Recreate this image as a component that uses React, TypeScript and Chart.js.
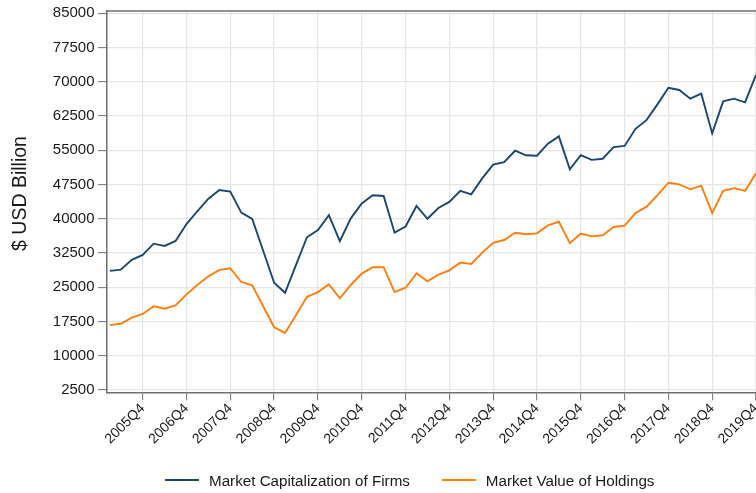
import { useEffect, useRef } from "react";
import { Chart, registerables } from "chart.js";

Chart.register(...registerables);

const QUARTERS = [
  "2005Q1", "2005Q2", "2005Q3", "2005Q4",
  "2006Q1", "2006Q2", "2006Q3", "2006Q4",
  "2007Q1", "2007Q2", "2007Q3", "2007Q4",
  "2008Q1", "2008Q2", "2008Q3", "2008Q4",
  "2009Q1", "2009Q2", "2009Q3", "2009Q4",
  "2010Q1", "2010Q2", "2010Q3", "2010Q4",
  "2011Q1", "2011Q2", "2011Q3", "2011Q4",
  "2012Q1", "2012Q2", "2012Q3", "2012Q4",
  "2013Q1", "2013Q2", "2013Q3", "2013Q4",
  "2014Q1", "2014Q2", "2014Q3", "2014Q4",
  "2015Q1", "2015Q2", "2015Q3", "2015Q4",
  "2016Q1", "2016Q2", "2016Q3", "2016Q4",
  "2017Q1", "2017Q2", "2017Q3", "2017Q4",
  "2018Q1", "2018Q2", "2018Q3", "2018Q4",
  "2019Q1", "2019Q2", "2019Q3", "2019Q4",
];

const X_TICK_LABELS = [
  "2005Q4", "2006Q4", "2007Q4", "2008Q4", "2009Q4", "2010Q4", "2011Q4", "2012Q4",
  "2013Q4", "2014Q4", "2015Q4", "2016Q4", "2017Q4", "2018Q4", "2019Q4",
];

const Y_TICKS = [2500, 10000, 17500, 25000, 32500, 40000, 47500, 55000, 62500, 70000, 77500, 85000];

const MARKET_CAP = [
  28600, 28850, 31000, 32100,
  34550, 34050, 35150, 38850,
  41700, 44400, 46300, 45950,
  41350, 39950, 33000, 26000,
  23800, 29900, 35950, 37550,
  40800, 35100, 40100, 43350,
  45150, 45000, 36950, 38300,
  42800, 40000, 42350, 43700,
  46100, 45350, 48850, 51850,
  52400, 54900, 53900, 53800,
  56450, 58050, 50850, 53950,
  52900, 53150, 55700, 55950,
  59700, 61600, 65050, 68700,
  68200, 66300, 67400, 58700,
  65700, 66300, 65500, 71500,
];

const MARKET_VALUE = [
  16700, 17000, 18350, 19150,
  20850, 20300, 21050, 23450,
  25550, 27400, 28800, 29150,
  26150, 25450, 20850, 16250,
  15000, 18950, 22900, 23950,
  25650, 22600, 25500, 28000,
  29400, 29400, 23950, 24900,
  28050, 26300, 27750, 28700,
  30400, 30100, 32600, 34750,
  35350, 36950, 36600, 36800,
  38550, 39350, 34650, 36750,
  36150, 36400, 38200, 38500,
  41250, 42650, 45200, 47900,
  47550, 46450, 47250, 41250,
  46100, 46700, 46100, 50000,
];

const SERIES_LABELS = ["Market Capitalization of Firms", "Market Value of Holdings"];

const FONT = "'Liberation Sans', Arial, Helvetica, sans-serif";
const AXIS = "#6f6f6f";
const GRID = "#e6e6e6";
const TEXT = "#1a1a1a";
const BLUE = "#1a476f";
const ORANGE = "#ff7f0e";

export default function App() {
  const ref = useRef<HTMLCanvasElement>(null);

  useEffect(() => {
    document.body.style.margin = "0";
    document.body.style.overflow = "hidden";
    if (!ref.current) return;

    const topFrame = {
      id: "topFrame",
      afterDraw(chart: any) {
        const { ctx, chartArea } = chart;
        ctx.save();
        ctx.strokeStyle = AXIS;
        ctx.lineWidth = 1.5;
        ctx.beginPath();
        ctx.moveTo(chartArea.left - 0.75, chartArea.top);
        ctx.lineTo(chartArea.right, chartArea.top);
        ctx.stroke();
        ctx.restore();
      },
    };

    const lineLegend = {
      id: "lineLegend",
      afterDraw(chart: any) {
        const { ctx, chartArea } = chart;
        ctx.save();
        ctx.font = `15.2px ${FONT}`;
        ctx.textBaseline = "alphabetic";
        ctx.textAlign = "left";
        let x = chartArea.left + 58;
        const lineY = chart.height - 13;
        const textY = chart.height - 7;
        chart.data.datasets.forEach((ds: any) => {
          ctx.strokeStyle = ds.borderColor;
          ctx.lineWidth = 2;
          ctx.beginPath();
          ctx.moveTo(x, lineY);
          ctx.lineTo(x + 34, lineY);
          ctx.stroke();
          ctx.fillStyle = TEXT;
          ctx.fillText(ds.label, x + 44, textY);
          x += 44 + ctx.measureText(ds.label).width + 32;
        });
        ctx.restore();
      },
    };

    const chart = new Chart(ref.current, {
      type: "line",
      data: {
        datasets: [
          {
            label: SERIES_LABELS[0],
            data: MARKET_CAP.map((v, i) => ({ x: i, y: v })),
            borderColor: BLUE,
            backgroundColor: BLUE,
            borderWidth: 1.9,
            pointRadius: 0,
            fill: false,
            tension: 0,
          },
          {
            label: SERIES_LABELS[1],
            data: MARKET_VALUE.map((v, i) => ({ x: i, y: v })),
            borderColor: ORANGE,
            backgroundColor: ORANGE,
            borderWidth: 1.9,
            pointRadius: 0,
            fill: false,
            tension: 0,
          },
        ],
      },
      options: {
        animation: false,
        responsive: false,
        devicePixelRatio: 1,
        layout: { padding: { top: 11, left: 0, right: 0, bottom: 0 } },
        plugins: {
          legend: { display: false },
          tooltip: { enabled: false },
        },
        scales: {
          x: {
            type: "linear",
            min: -0.26,
            max: 59,
            afterBuildTicks: (s: any) => {
              s.ticks = X_TICK_LABELS.map((l) => ({ value: QUARTERS.indexOf(l) }));
            },
            afterFit: (s: any) => {
              s.height = 100.7;
              s.paddingLeft = 0;
              s.paddingRight = 0;
            },
            ticks: {
              autoSkip: false,
              minRotation: 45,
              maxRotation: 45,
              padding: 0,
              color: TEXT,
              font: { family: FONT, size: 14 },
              callback: (v: any) => QUARTERS[Math.round(Number(v))] ?? "",
            },
            grid: { color: GRID, lineWidth: 1.3, tickColor: AXIS, tickLength: 8, tickWidth: 1 },
            border: { color: AXIS, width: 1.5 },
          },
          y: {
            min: 2000,
            max: 85500,
            afterBuildTicks: (s: any) => {
              s.ticks = Y_TICKS.map((v) => ({ value: v }));
            },
            afterFit: (s: any) => {
              s.width = 107;
              s.paddingTop = 0;
              s.paddingBottom = 0;
            },
            ticks: {
              padding: 3.5,
              color: TEXT,
              font: { family: FONT, size: 15 },
              callback: (v: any) => String(v),
            },
            grid: { color: GRID, lineWidth: 1.3, tickColor: AXIS, tickLength: 9, tickWidth: 1 },
            border: { color: AXIS, width: 1.5 },
            title: {
              display: true,
              text: "   $ USD Billion",
              color: TEXT,
              font: { family: FONT, size: 19.5 },
              padding: { top: 9, bottom: 0 },
            },
          },
        },
      },
      plugins: [topFrame, lineLegend],
    } as any);

    return () => chart.destroy();
  }, []);

  return (
    <div style={{ width: 756, height: 493, overflow: "hidden", background: "#fff" }}>
      <canvas ref={ref} width={756} height={493} style={{ display: "block" }} />
    </div>
  );
}
